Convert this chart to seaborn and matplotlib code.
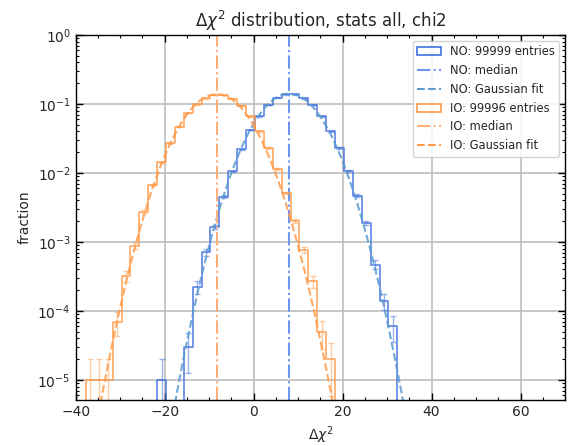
import numpy as np
import pandas as pd
import matplotlib
matplotlib.use("Agg")
import matplotlib.pyplot as plt
import seaborn as sns
from matplotlib.patches import Patch
from matplotlib.lines import Line2D
from matplotlib.ticker import MultipleLocator

# ---------------- data ----------------
bin_width = 2.0
no_first_edge = -21.7
io_first_edge = -37.7

no_fraction = [1e-5, 0, 0, 3e-5, 2.2e-4, 7.1e-4, 1.65e-3, 4.5e-3, 1.05e-2, 2.2e-2,
               4.2e-2, 6.6e-2, 9.7e-2, 0.124, 0.138, 0.138, 0.121, 0.097, 0.066,
               0.040, 0.023, 1.08e-2, 4.7e-3, 1.9e-3, 4.7e-4, 1.4e-4, 6e-5]
io_fraction = [1e-5, 1e-5, 1e-5, 7e-5, 3.2e-4, 8.8e-4, 2.7e-3, 6.7e-3, 1.42e-2,
               2.7e-2, 4.7e-2, 7.4e-2, 9.9e-2, 0.121, 0.135, 0.135, 0.119, 0.095,
               0.066, 0.040, 0.023, 1.14e-2, 5.1e-3, 2.0e-3, 7.7e-4, 2.7e-4,
               5e-5, 2e-5]
no_entries = 99999
io_entries = 99996
no_median = 7.9
io_median = -8.3
no_fit_mu, no_fit_sigma = 8.0, 5.65
io_fit_mu, io_fit_sigma = -8.3, 5.75

# ---------------- styling ----------------
sns.set_style("white")
plt.rcParams['font.family'] = ['DejaVu Sans']

no_hist_c = "#3f6fe0"
no_med_c = "#6f96ee"
no_fit_c = "#5a9ad0"
io_hist_c = "#ff9a48"
io_med_c = "#ffb07a"
io_fit_c = "#ff9a48"

fig = plt.figure(figsize=(5.76, 4.46), dpi=100)
ax = fig.add_axes([0.1314, 0.1031, 0.8495, 0.8184])


def draw_series(first_edge, frac, n_entries, hist_c, med, med_c, mu, sig, fit_c):
    frac = np.asarray(frac, dtype=float)
    # pad with an empty bin on both sides so the step closes at the ends
    padded = np.concatenate([[0.0], frac, [0.0]])
    lo = first_edge - bin_width
    hi = lo + bin_width * len(padded)
    centers = lo + bin_width * (np.arange(len(padded)) + 0.5)
    df = pd.DataFrame({"x": centers, "w": padded})
    sns.histplot(data=df, x="x", weights="w", binwidth=bin_width, binrange=(lo, hi),
                 element="step", fill=False, color=hist_c, linewidth=1.2,
                 alpha=0.85, ax=ax)
    nz = padded > 0
    err = np.sqrt(padded * n_entries) / n_entries
    ax.errorbar(centers[nz], padded[nz], yerr=err[nz], fmt="none",
                ecolor=hist_c, alpha=0.5, capsize=2.5, elinewidth=1.0)
    ax.axvline(med, color=med_c, linestyle="-.", linewidth=1.5)
    xs = np.linspace(-40, 70, 800)
    ys = bin_width * np.exp(-0.5 * ((xs - mu) / sig) ** 2) / (sig * np.sqrt(2 * np.pi))
    sns.lineplot(x=xs, y=ys, color=fit_c, linestyle="--", linewidth=1.5,
                 alpha=0.85, ax=ax, legend=False)


draw_series(no_first_edge, no_fraction, no_entries, no_hist_c, no_median, no_med_c,
            no_fit_mu, no_fit_sigma, no_fit_c)
draw_series(io_first_edge, io_fraction, io_entries, io_hist_c, io_median, io_med_c,
            io_fit_mu, io_fit_sigma, io_fit_c)

ax.set_yscale("log")
ax.set_xlim(-40, 70)
ax.set_ylim(5.1e-6, 1)
ax.xaxis.set_major_locator(MultipleLocator(20))
ax.xaxis.set_minor_locator(MultipleLocator(5))
ax.tick_params(which="both", direction="in", top=True, right=True,
               bottom=True, left=True, labelsize=10, color="k")
ax.tick_params(which="major", length=5, width=1)
ax.tick_params(which="minor", length=2.5, width=0.8)
for s in ax.spines.values():
    s.set_color("k")
    s.set_linewidth(1)
ax.grid(True, which="major", color="#bdbdbd", linewidth=1.2)
ax.set_axisbelow(True)

ax.set_title(r"$\Delta\chi^2$ distribution, stats all, chi2", fontsize=12)
ax.set_xlabel(r"$\Delta\chi^2$", fontsize=10)
ax.set_ylabel("fraction", fontsize=10)

handles = [
    Patch(facecolor="none", edgecolor=no_hist_c, linewidth=1.2, label=f"NO: {no_entries} entries"),
    Line2D([], [], color=no_med_c, linestyle="-.", linewidth=1.5, label="NO: median"),
    Line2D([], [], color=no_fit_c, linestyle="--", linewidth=1.5, label="NO: Gaussian fit"),
    Patch(facecolor="none", edgecolor=io_hist_c, linewidth=1.2, label=f"IO: {io_entries} entries"),
    Line2D([], [], color=io_med_c, linestyle="-.", linewidth=1.5, label="IO: median"),
    Line2D([], [], color=io_fit_c, linestyle="--", linewidth=1.5, label="IO: Gaussian fit"),
]
ax.legend(handles=handles, loc="upper right", fontsize=8.3, framealpha=0.85,
          edgecolor="0.8", fancybox=True)

fig.savefig("out.png", dpi=100)
